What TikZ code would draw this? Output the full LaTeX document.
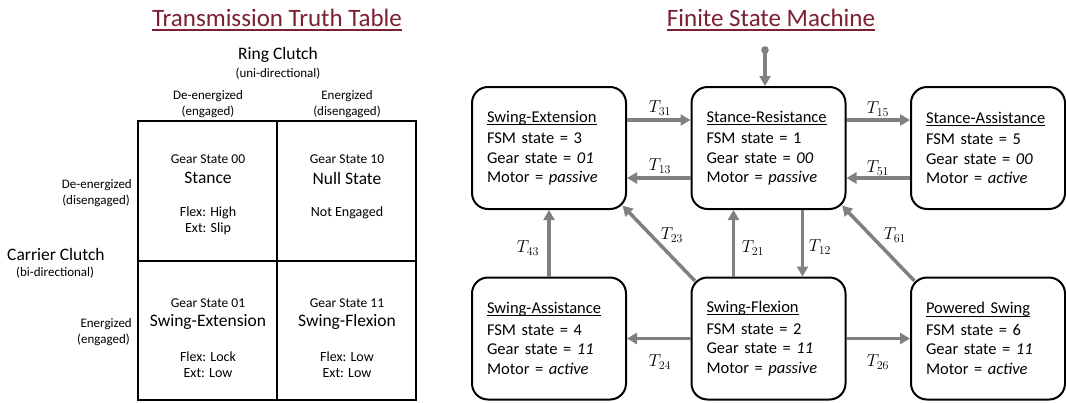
\documentclass[tikz,border=0pt]{standalone}
\usepackage{fontspec}
\setmainfont{Carlito}
\usetikzlibrary{arrows.meta}
\definecolor{titlered}{HTML}{7B1F33}
\definecolor{arrgray}{HTML}{808080}
\newcommand\ulx[1]{\setbox0\hbox{#1}\rlap{\rule[-2.6pt]{\wd0}{1pt}}\box0}
\newcommand\fs[1]{\fontsize{#1}{#1}\selectfont}
\begin{document}
\begin{tikzpicture}[x=1pt,y=-1pt,
  fsm/.style={draw, line width=2pt, rounded corners=16pt, minimum width=154pt, minimum height=122pt,
    text width=124pt, align=left, inner sep=0pt, font=\fontsize{16.5}{19.5}\selectfont},
  conn/.style={draw=arrgray, line width=3.5pt, -{Triangle[length=10pt,width=11pt]}},
  tlab/.style={inner sep=0pt, font=\fontsize{17}{17}\selectfont},
  ttl/.style={inner sep=0pt, anchor=base, text=titlered, font=\fs{25}},
  big/.style={inner sep=0pt, font=\fs{17.5}},
  med/.style={inner sep=0pt, font=\fs{13}},
  cell/.style={inner sep=0pt, font=\fs{14}},
  gear/.style={inner sep=0pt, font=\fs{13.5}},
  sml/.style={inner sep=0pt, font=\fs{13}},
  grid/.style={line width=1.5pt}]
\useasboundingbox (0,0) rectangle (1066,402);

% titles
\node[ttl] (t1) at (277,26) {Transmission Truth Table};
\draw[titlered, line width=1.3pt] ([yshift=-4pt]t1.base west) -- ([yshift=-4pt]t1.base east);
\node[ttl] (t2) at (771,26) {Finite State Machine};
\draw[titlered, line width=1.3pt] ([yshift=-4pt]t2.base west) -- ([yshift=-4pt]t2.base east);

% truth table
\draw[grid] (138,121) rectangle (416,400);
\draw[grid] (277,121) -- (277,400);
\draw[grid] (138,261) -- (416,261);

\node[big] (ring) at (278,55) {Ring Clutch};
\node[sml] (uni) at (278,74) {(uni-directional)};
\node[med] (cdeen) at (208,96) {De-energized};
\node[sml] (ceng) at (208,112) {(engaged)};
\node[med] (cen) at (347,96) {Energized};
\node[sml] (cdis) at (347,112) {(disengaged)};

\node[med, anchor=east] (rdeen) at (132,185) {De-energized};
\node[sml, anchor=east] (rdis) at (130,201) {(disengaged)};
\node[big, anchor=west, font=\fs{17.5}] (carrier) at (7,254) {Carrier Clutch};
\node[sml, anchor=west] (bi) at (16,273) {(bi-directional)};
\node[med, anchor=east] (ren) at (132,324) {Energized};
\node[sml, anchor=east] (reng) at (130,340) {(engaged)};

\node[gear] (g00) at (208,159) {Gear State 00};
\node[big] (s00) at (208,178) {Stance};
\node[cell] (f00) at (208,213) {Flex: High};
\node[cell] (e00) at (208,229) {Ext: Slip};
\node[gear] (g10) at (347,159) {Gear State 10};
\node[big] (s10) at (347,178) {Null State};
\node[cell] (f10) at (347,213) {Not Engaged};
\node[gear] (g01) at (208,303) {Gear State 01};
\node[big] (s01) at (208,322) {Swing-Extension};
\node[cell] (f01) at (208,357) {Flex: Lock};
\node[cell] (e01) at (208,373) {Ext: Low};
\node[gear] (g11) at (347,303) {Gear State 11};
\node[big] (s11) at (347,322) {Swing-Flexion};
\node[cell] (f11) at (347,357) {Flex: Low};
\node[cell] (e11) at (347,373) {Ext: Low};

% FSM boxes
\node[fsm] (b1) at (549,148) {\ulx{Swing-Extension}\\[2pt]FSM state = 3\\Gear state = \textit{01}\\Motor = \textit{passive}};
\node[fsm] (b2) at (768.5,148) {\ulx{Stance-Resistance}\\[2pt]FSM state = 1\\Gear state = \textit{00}\\Motor = \textit{passive}};
\node[fsm] (b3) at (988,148) {\ulx{Stance-Assistance}\\[2pt]FSM state = 5\\Gear state = \textit{00}\\Motor = \textit{active}};
\node[fsm] (b4) at (549,338.5) {\ulx{Swing-Assistance}\\[2pt]FSM state = 4\\Gear state = \textit{11}\\Motor = \textit{active}};
\node[fsm] (b5) at (768.5,338.5) {\ulx{Swing-Flexion}\\[2pt]FSM state = 2\\Gear state = \textit{11}\\Motor = \textit{passive}};
\node[fsm] (b6) at (988,338.5) {\ulx{Powered Swing}\\[2pt]FSM state = 6\\Gear state = \textit{11}\\Motor = \textit{active}};

% initial arrow
\coordinate (init) at (765,50);
\draw[conn] (init) -- (init |- b2.north);
\fill[arrgray] (init) circle (3.8pt);

% transitions
\draw[conn] ([yshift=28pt]b1.east) -- ([yshift=28pt]b2.west);
\draw[conn] ([yshift=-30pt]b2.west) -- ([yshift=-30pt]b1.east);
\draw[conn] ([yshift=28pt]b2.east) -- ([yshift=28pt]b3.west);
\draw[conn] ([yshift=-30pt]b3.west) -- ([yshift=-30pt]b2.east);
\draw[conn] (b4.north) -- (b1.south);
\draw[conn] ([xshift=-35pt]b5.north) -- ([xshift=-35pt]b2.south);
\draw[conn] ([xshift=34pt]b2.south) -- ([xshift=34pt]b5.north);
\draw[conn] ([shift={(4.4pt,-4.4pt)}]b5.north west) -- ([shift={(-4.4pt,4.4pt)}]b1.south east);
\draw[conn] ([shift={(4.4pt,-4.4pt)}]b6.north west) -- ([shift={(-4.4pt,4.4pt)}]b2.south east);
\draw[conn] (b5.west) -- (b4.east);
\draw[conn] (b5.east) -- (b6.west);

% transition labels
\node[tlab] (l31) at (660,108) {$T_{31}$};
\node[tlab] (l13) at (660,166) {$T_{13}$};
\node[tlab] (l15) at (878,109) {$T_{15}$};
\node[tlab] (l51) at (878,168) {$T_{51}$};
\node[tlab] (l43) at (528,248) {$T_{43}$};
\node[tlab] (l23) at (672,235) {$T_{23}$};
\node[tlab] (l21) at (753,248) {$T_{21}$};
\node[tlab] (l12) at (820,247) {$T_{12}$};
\node[tlab] (l61) at (895,235) {$T_{61}$};
\node[tlab] (l24) at (660,362) {$T_{24}$};
\node[tlab] (l26) at (878,362) {$T_{26}$};
\end{tikzpicture}
\end{document}
